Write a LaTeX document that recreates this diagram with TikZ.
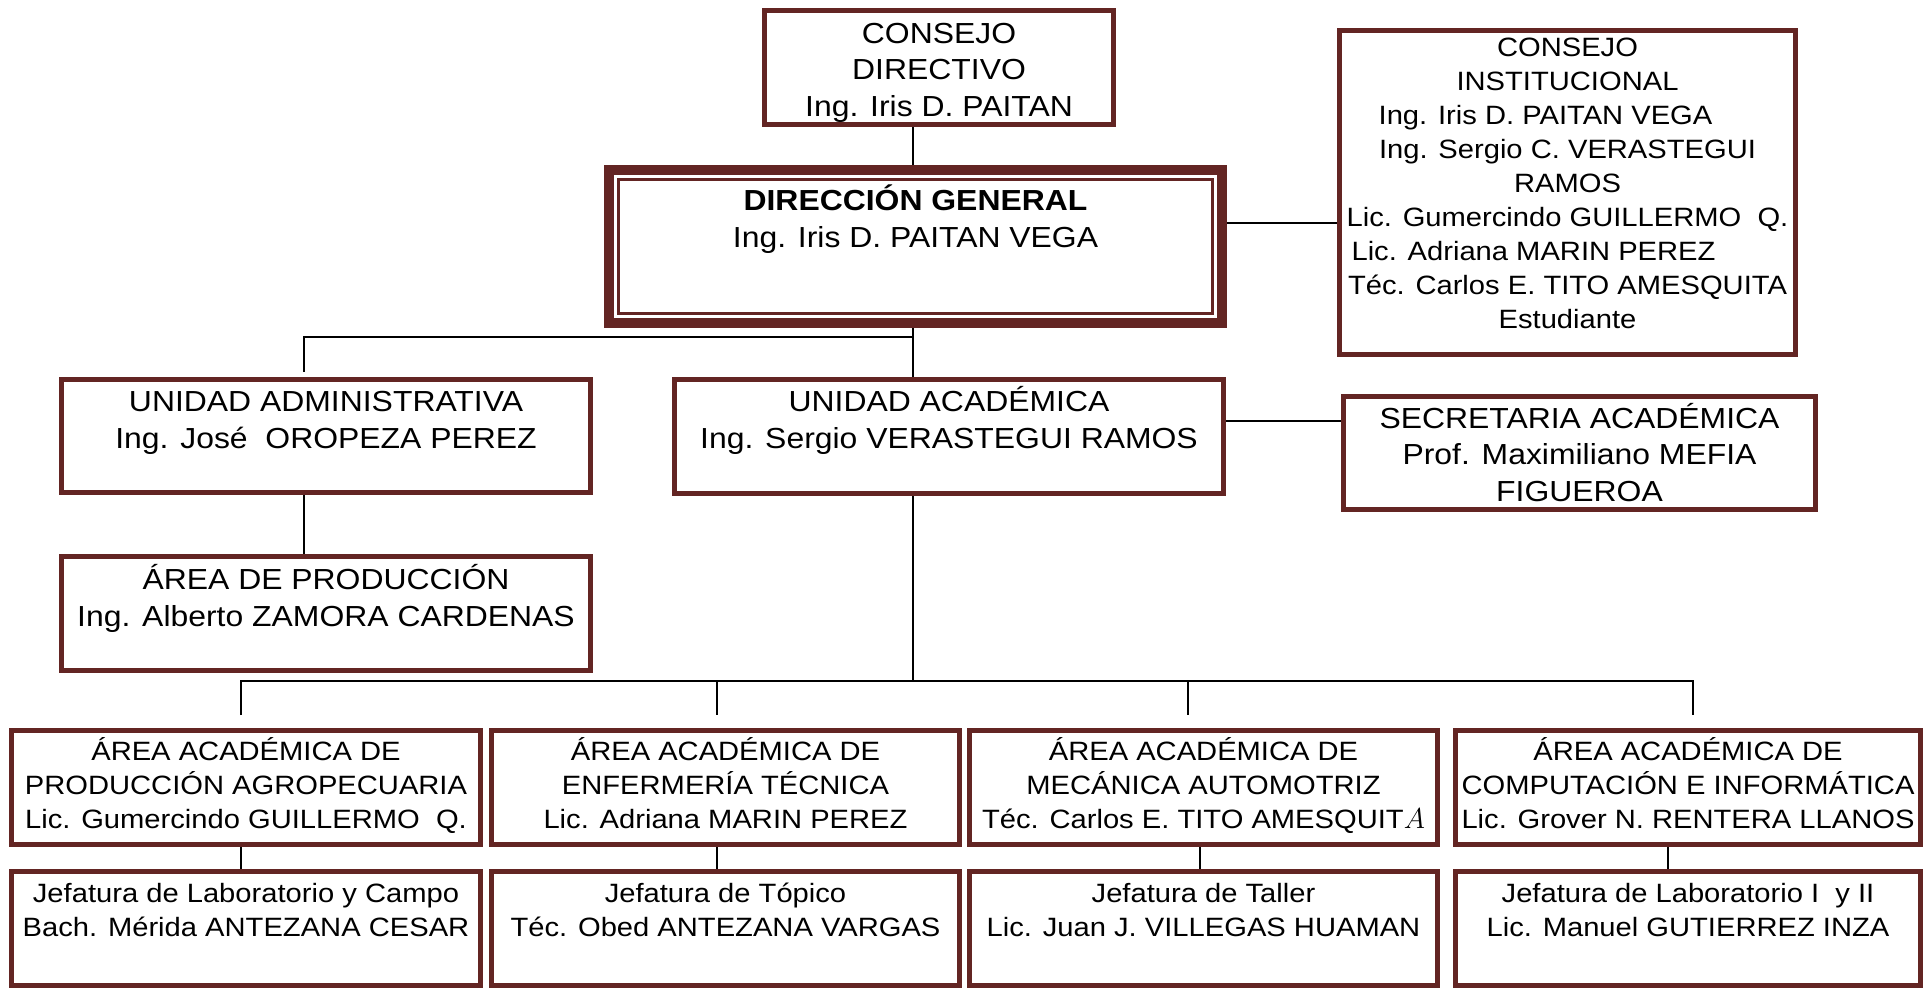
\documentclass[tikz,border=0pt]{standalone}
\usepackage{fontspec}
\setmainfont{Liberation Sans}[FakeStretch=1.1]
\definecolor{granate}{RGB}{99,37,35}
\newcommand{\grande}{\fontsize{14.5pt}{18.3pt}\selectfont}
\newcommand{\chica}{\fontsize{13.25pt}{17pt}\selectfont}
\newcommand{\cajatexto}[4][3.4pt]{\parbox[c][#3][t]{#2}{\centering\vspace*{#1}\begin{tabular}{@{}c@{}}#4\end{tabular}}}
\tikzset{
  caja/.style={draw=granate, line width=2.5pt, inner sep=0pt},
  conector/.style={draw=black, line width=1pt}
}
\begin{document}
\begin{tikzpicture}[x=0.5pt,y=-0.5pt]
\useasboundingbox (0,0) rectangle (1932,993);
\node[caja,font=\grande] (cd) at (939,67.5) {\cajatexto[3.6pt]{174.5pt}{57pt}{CONSEJO\\DIRECTIVO\\Ing. Iris D. PAITAN}};
\node[caja,line width=5pt,font=\grande] (dg) at (915.5,246.5) {\cajatexto[7.5pt]{306.5pt}{76.5pt}{\textbf{DIRECCIÓN GENERAL}\\Ing. Iris D. PAITAN VEGA}};
\draw[granate,line width=1.5pt] ([xshift=7.2pt,yshift=-7.2pt]dg.north west) rectangle ([xshift=-7.2pt,yshift=7.2pt]dg.south east);
\node[caja,font=\chica] (ci) at (1567.5,192.5) {\cajatexto[1.3pt]{228pt}{162pt}{CONSEJO\\INSTITUCIONAL\\Ing. Iris D. PAITAN VEGA\hspace*{22pt}\null\\Ing. Sergio C. VERASTEGUI\\RAMOS\\Lic. Gumercindo GUILLERMO\ \ Q.\\Lic. Adriana MARIN PEREZ\hspace*{34pt}\null\\Téc. Carlos E. TITO AMESQUITA\\Estudiante}};
\node[caja,font=\grande] (ua) at (326,436) {\cajatexto[3.3pt]{264.5pt}{56.5pt}{UNIDAD ADMINISTRATIVA\\Ing. José\ \ OROPEZA PEREZ}};
\node[caja,font=\grande] (uac) at (949,436.5) {\cajatexto[3.3pt]{274.5pt}{57pt}{UNIDAD ACADÉMICA\\Ing. Sergio VERASTEGUI RAMOS}};
\node[caja,font=\grande] (sa) at (1579.5,453) {\cajatexto[3.1pt]{236pt}{56.5pt}{SECRETARIA ACADÉMICA\\Prof. Maximiliano MEFIA\\FIGUEROA}};
\node[caja,font=\grande] (ap) at (326,613.5) {\cajatexto[3.9pt]{264.5pt}{57pt}{ÁREA DE PRODUCCIÓN\\Ing. Alberto ZAMORA CARDENAS}};
\node[caja,font=\chica] (a1) at (246,787.5) {\cajatexto[3.2pt]{234.5pt}{57pt}{ÁREA ACADÉMICA DE\\PRODUCCIÓN AGROPECUARIA\\Lic. Gumercindo GUILLERMO\ \ Q.}};
\node[caja,font=\chica] (a2) at (725.5,787.5) {\cajatexto[3.2pt]{234pt}{57pt}{ÁREA ACADÉMICA DE\\ENFERMERÍA TÉCNICA\\Lic. Adriana MARIN PEREZ}};
\node[caja,font=\chica] (a3) at (1203.5,787.5) {\cajatexto[3.2pt]{234pt}{57pt}{ÁREA ACADÉMICA DE\\MECÁNICA AUTOMOTRIZ\\Téc. Carlos E. TITO AMESQUIT$A$}};
\node[caja,font=\chica] (a4) at (1688,787.5) {\cajatexto[3.2pt]{232.5pt}{57pt}{ÁREA ACADÉMICA DE\\COMPUTACIÓN E INFORMÁTICA\\Lic. Grover N. RENTERA LLANOS}};
\node[caja,font=\chica] (j1) at (246,928.5) {\cajatexto[3.7pt]{234.5pt}{57pt}{Jefatura de Laboratorio y Campo\\Bach. Mérida ANTEZANA CESAR}};
\node[caja,font=\chica] (j2) at (725.5,928.5) {\cajatexto[3.7pt]{234pt}{57pt}{Jefatura de Tópico\\Téc. Obed ANTEZANA VARGAS}};
\node[caja,font=\chica] (j3) at (1203.5,928.5) {\cajatexto[3.7pt]{234pt}{57pt}{Jefatura de Taller\\Lic. Juan J. VILLEGAS HUAMAN}};
\node[caja,font=\chica] (j4) at (1688,928.5) {\cajatexto[3.7pt]{232.5pt}{57pt}{Jefatura de Laboratorio I\ \ y II\\Lic. Manuel GUTIERREZ INZA}};
\coordinate (ejeA) at (913,337);
\coordinate (ejeB) at (913,681);
\coordinate (pUA) at (304,372);
\coordinate (b1) at (241,715);
\coordinate (b2) at (717,715);
\coordinate (b3) at (1188,715);
\coordinate (b4) at (1693,715);
\draw[conector] (cd.south -| ejeA) -- (dg.north -| ejeA);
\draw[conector] (dg.east |- 0,223) -- (ci.west |- 0,223);
\draw[conector] (dg.south -| ejeA) -- (uac.north -| ejeA);
\draw[conector] (ejeA) -| (pUA);
\draw[conector] (ua.south -| pUA) -- (ap.north -| pUA);
\draw[conector] (uac.east |- 0,421) -- (sa.west |- 0,421);
\draw[conector] (uac.south -| ejeB) -- (ejeB);
\draw[conector] (b1) -- (b1 |- ejeB) -- (b4 |- ejeB) -- (b4);
\draw[conector] (b2 |- ejeB) -- (b2);
\draw[conector] (b3 |- ejeB) -- (b3);
\foreach \i/\x in {1/241,2/717,3/1200,4/1668}
  \draw[conector] (a\i.south -| \x,0) -- (j\i.north -| \x,0);
\end{tikzpicture}
\end{document}
